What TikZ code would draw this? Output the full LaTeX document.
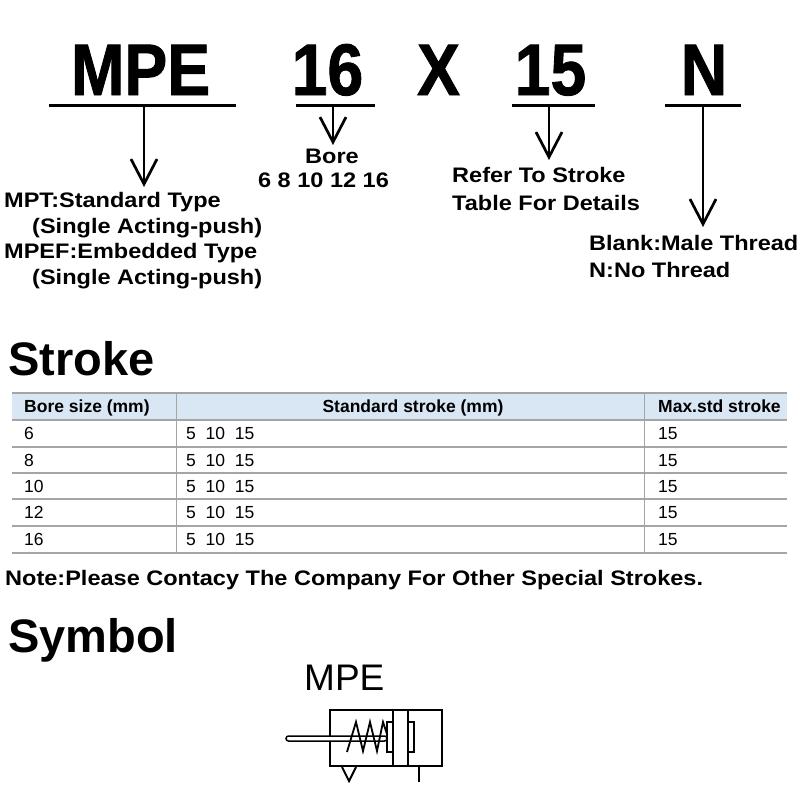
\documentclass[tikz,border=0pt]{standalone}
\usepackage{fontspec}
\setmainfont{Liberation Sans}
\newfontfamily\bigf[FakeStretch=0.88,FakeBold=1.2]{Liberation Sans}
\newfontfamily\midf[FakeStretch=1.12]{Liberation Sans}
\usetikzlibrary{arrows.meta}
\definecolor{hdrblue}{RGB}{217,231,245}
\definecolor{tblgray}{RGB}{165,165,165}
\tikzset{
  code/.style={font=\bigf\bfseries\fontsize{73}{73}\selectfont, inner sep=0pt, anchor=base},
  midtxt/.style={font=\midf\bfseries\fontsize{21}{21}\selectfont, inner sep=0pt, anchor=base west},
  uline/.style={line width=3pt},
  arr/.style={line width=2pt, -{Straight Barb[length=25pt,width=26pt,line width=2.7pt]}},
  heading/.style={font=\bfseries\fontsize{47}{47}\selectfont, inner sep=0pt, anchor=base west},
  thdr/.style={font=\bfseries\fontsize{17.5}{17.5}\selectfont, inner sep=0pt},
  tdat/.style={font=\fontsize{17.5}{17.5}\selectfont, inner sep=0pt, anchor=base west},
  tline/.style={draw=tblgray, line width=1.3pt},
  sym/.style={line width=2pt, line join=miter},
}
\begin{document}
\begin{tikzpicture}[x=1pt,y=-1pt]
\useasboundingbox[fill=white] (0,0) rectangle (800,800);

% ---- code line ----
\node[code] (cMPE) at (140.5,95) {MPE};
\node[code] (c16) at (327.5,95) {16};
\node[code] (cX) at (438.5,95) {X};
\node[code] (c15) at (550.5,95) {15};
\node[code] (cN) at (704,95) {N};

\draw[uline] (49,105) coordinate (uMPEa) -- (236,105) coordinate (uMPEb);
\draw[uline] (296,105) coordinate (u16a) -- (375,105) coordinate (u16b);
\draw[uline] (512,105) coordinate (u15a) -- (595,105) coordinate (u15b);
\draw[uline] (665,105) coordinate (uNa) -- (741,105) coordinate (uNb);

\coordinate (sMPE) at (144,105); \coordinate (tMPE) at (144,187);
\coordinate (s16) at (333,105); \coordinate (t16) at (333,145);
\coordinate (s15) at (549,105); \coordinate (t15) at (549,160);
\coordinate (sN) at (703,105); \coordinate (tN) at (703,227);
\draw[arr] (sMPE) -- (tMPE);
\draw[arr] (s16) -- (t16);
\draw[arr] (s15) -- (t15);
\draw[arr] (sN) -- (tN);

\node[midtxt, anchor=base] (bore) at (332,163) {Bore};
\node[midtxt, anchor=base] (boresz) at (323.5,187) {6 8 10 12 16};

\node[midtxt] (mpt1) at (4,207) {MPT:Standard Type};
\node[midtxt] (mpt2) at (32,233) {(Single Acting-push)};
\node[midtxt] (mpt3) at (4,258) {MPEF:Embedded Type};
\node[midtxt] (mpt4) at (32,284) {(Single Acting-push)};

\node[midtxt] (ref1) at (452,182) {Refer To Stroke};
\node[midtxt] (ref2) at (452,210) {Table For Details};

\node[midtxt] (bl1) at (589,250) {Blank:Male Thread};
\node[midtxt] (bl2) at (589,277) {N:No Thread};

% ---- Stroke table ----
\node[heading] (hStroke) at (8,375) {Stroke};

\fill[hdrblue] (12,393) rectangle (787,420);
\draw[tline] (12,393) -- (787,393);
\foreach \yy in {420,447,473,499,526,553} {
  \draw[tline] (12,\yy) -- (787,\yy);
}
\draw[tline, line width=1pt] (176,393) -- (176,553);
\draw[tline, line width=1pt] (644,393) -- (644,553);

\node[thdr, anchor=base west] (h1) at (24,412) {Bore size (mm)};
\node[thdr, anchor=base] (h2) at (413,412) {Standard stroke (mm)};
\node[thdr, anchor=base west] (h3) at (658,412) {Max.std stroke};

\foreach \bs/\yy in {6/439, 8/466, 10/492, 12/518, 16/545} {
  \node[tdat] at (24,\yy) {\bs};
  \node[tdat] at (186,\yy) {5\ \ 10\ \ 15};
  \node[tdat] at (658,\yy) {15};
}

\node[font=\midf\bfseries\fontsize{21}{21}\selectfont, inner sep=0pt, anchor=base west] (note) at (5,585) {Note:Please Contacy The Company For Other Special Strokes.};

% ---- Symbol ----
\node[heading] (hSymbol) at (8,652) {Symbol};
\node[font=\fontsize{37}{37}\selectfont, inner sep=0pt, anchor=base west] (symlbl) at (304,690) {MPE};

\draw[sym] (330,710) rectangle (442,766);
\draw[sym] (393,710) -- (393,766);
\draw[sym] (408,710) -- (408,766);
\draw[line width=1.6pt] (387,722) rectangle (393,752);
\draw[line width=1.6pt] (408,722) rectangle (414,752);
\draw[line width=1.5pt, fill=white, rounded corners=2.5pt] (286,736) rectangle (387,741);
\draw[line width=1.8pt, line join=miter] (347,752) -- (356,722) -- (363,751) -- (370,722) -- (377,751) -- (383,722) -- (387,734);
\draw[sym] (342,767) -- (349,781) -- (356,767);
\draw[sym] (419,766) -- (419,782);
\end{tikzpicture}
\end{document}
